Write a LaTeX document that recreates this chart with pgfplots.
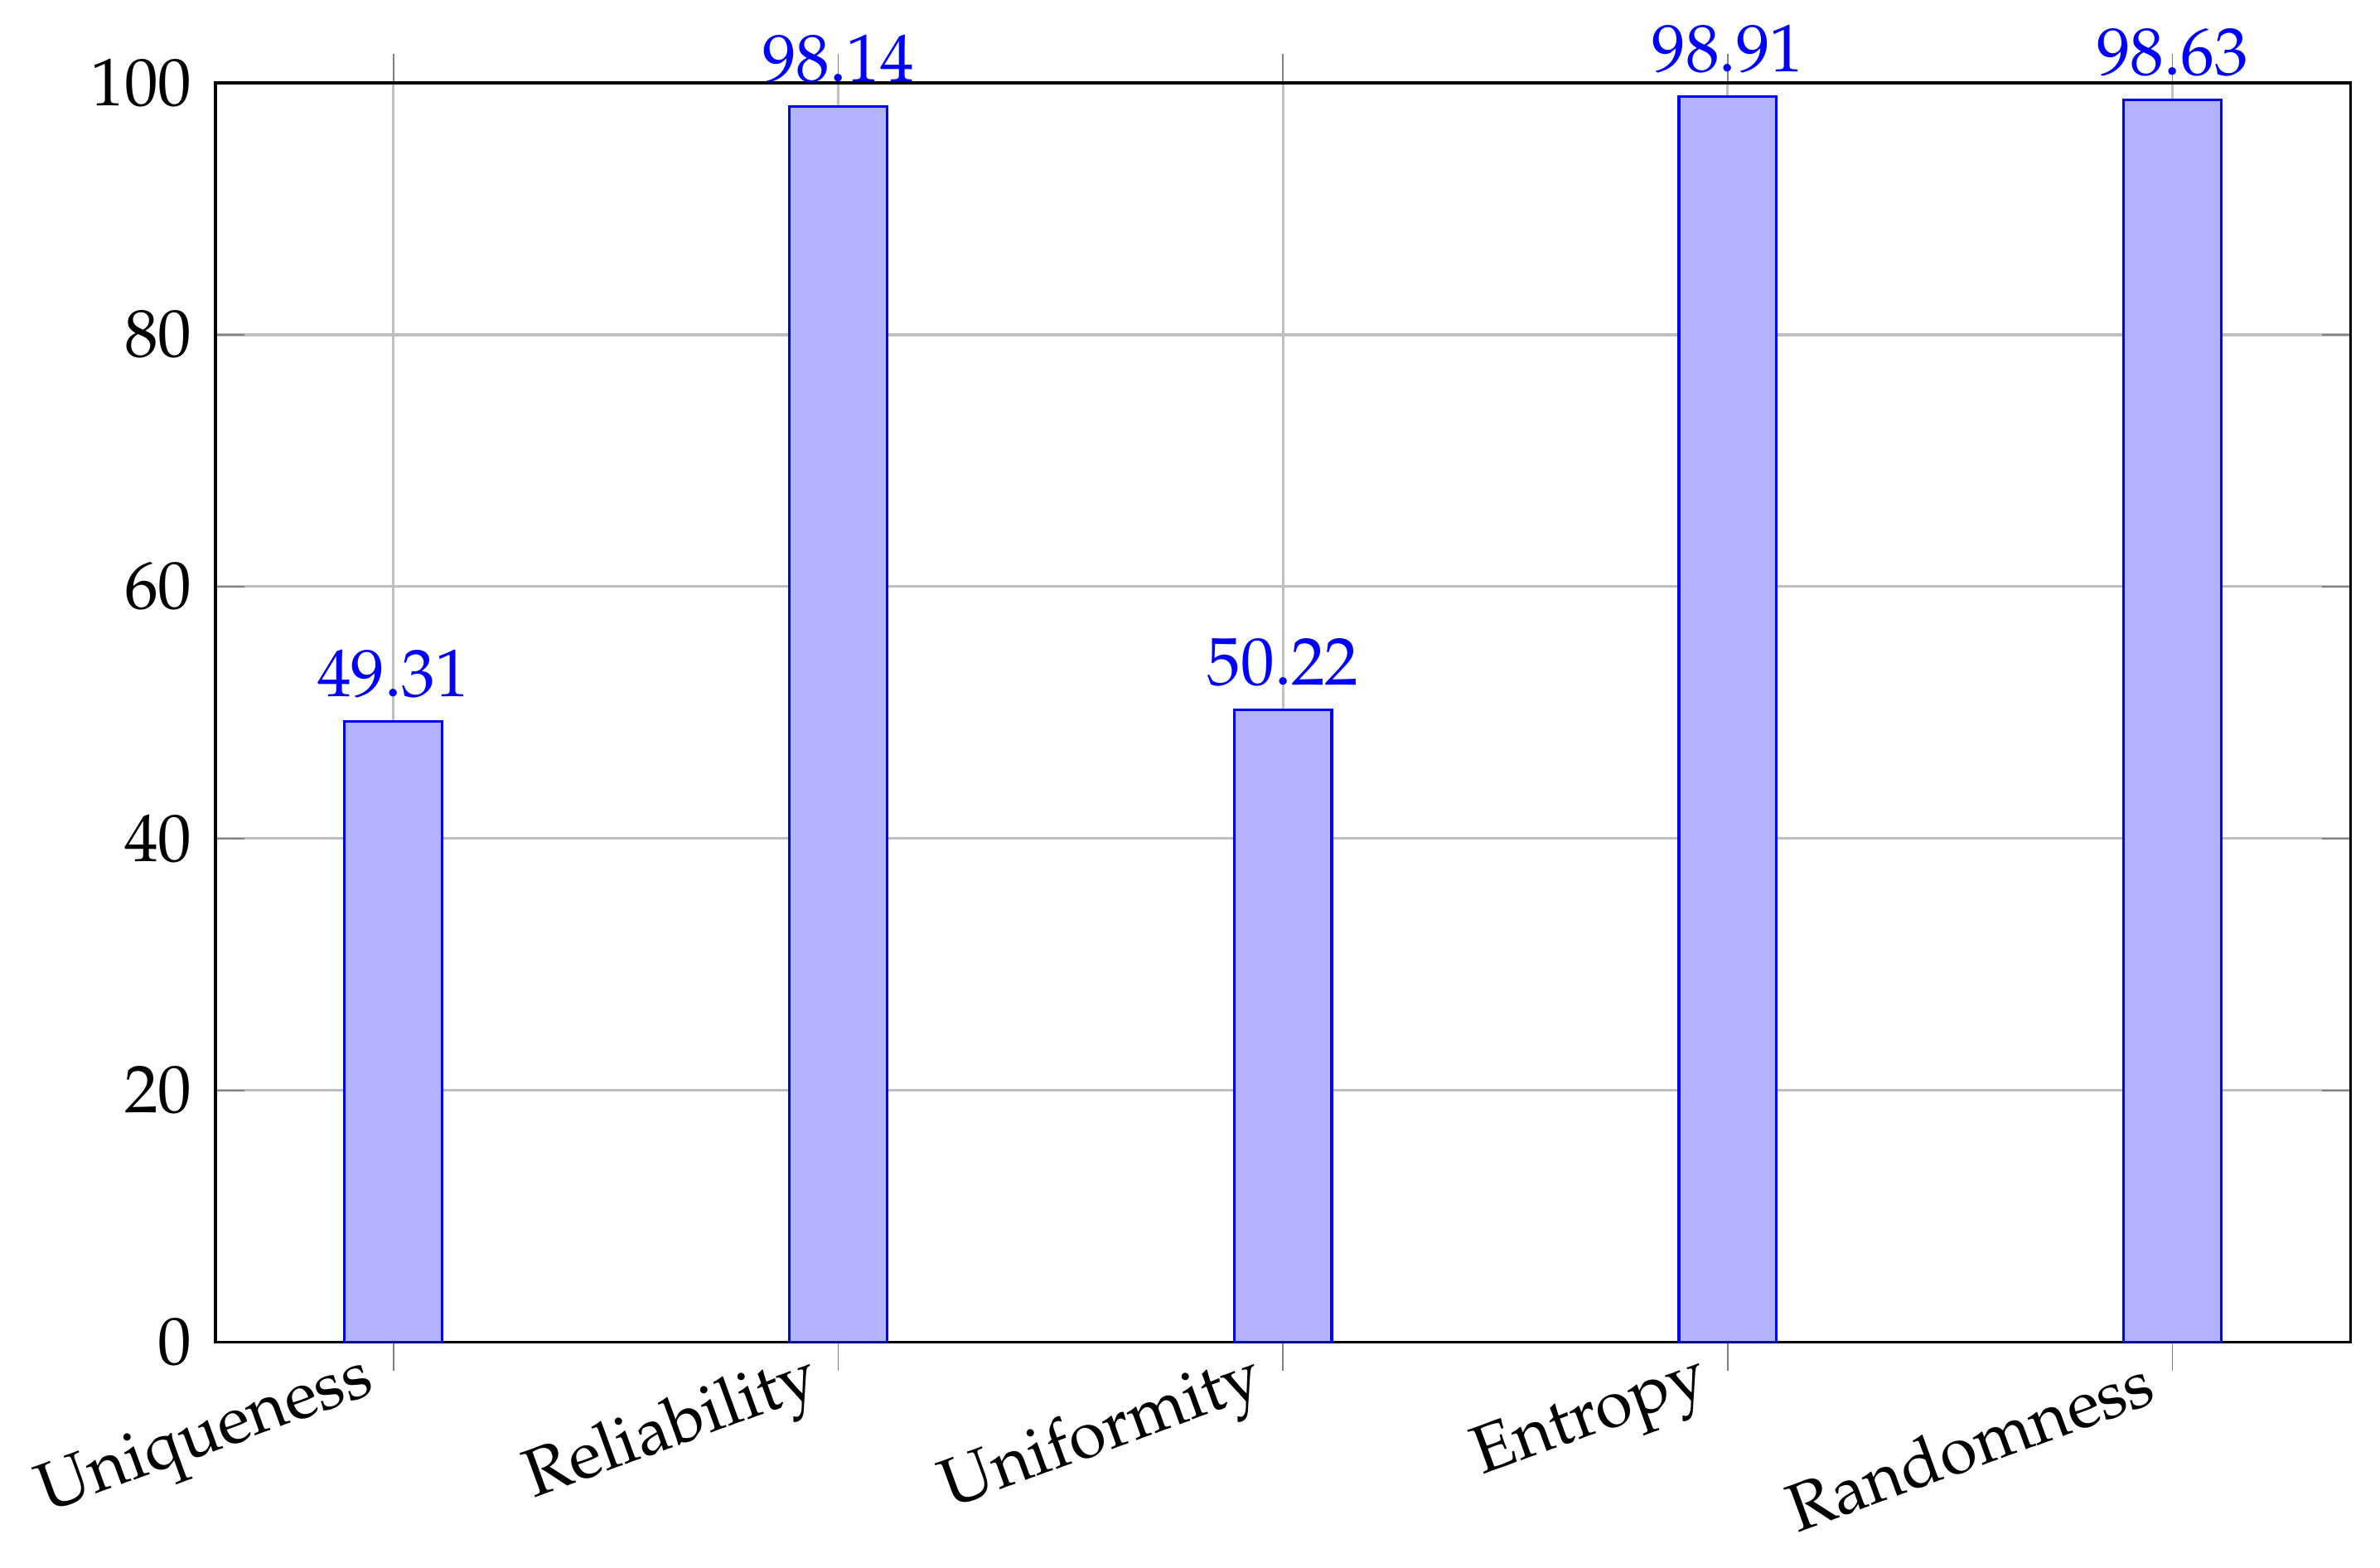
\documentclass[border=0pt]{standalone}
\usepackage[T1]{fontenc}
\usepackage{mathpazo}
\usepackage{pgfplots}
\pgfplotsset{compat=1.18}
\begin{document}
\begin{tikzpicture}
\begin{axis}[
  scale only axis,
  width=317pt, height=187pt,
  ybar,
  bar width=14.5pt,
  xmin=-0.4, xmax=4.4,
  ymin=0, ymax=100,
  ytick={0,20,40,60,80,100},
  xtick={0,1,2,3,4},
  xticklabels={Uniqueness,Reliability,Uniformity,Entropy,Randomness},
  x tick label style={rotate=20, anchor=east},
  xtick align=outside,
  xmajorgrids, ymajorgrids,
  nodes near coords,
  nodes near coords style={blue, /pgf/number format/fixed, /pgf/number format/precision=2},
]
\addplot[draw=blue, fill=blue!30] coordinates {(0,49.31) (1,98.14) (2,50.22) (3,98.91) (4,98.63)};
\coordinate (sw) at (rel axis cs:0,0);
\coordinate (ne) at (rel axis cs:1,1);
\end{axis}
\pgfresetboundingbox
\path ([shift={(-32pt,-33.5pt)}]sw) rectangle ([shift={(4.4pt,12.3pt)}]ne);
\end{tikzpicture}
\end{document}
